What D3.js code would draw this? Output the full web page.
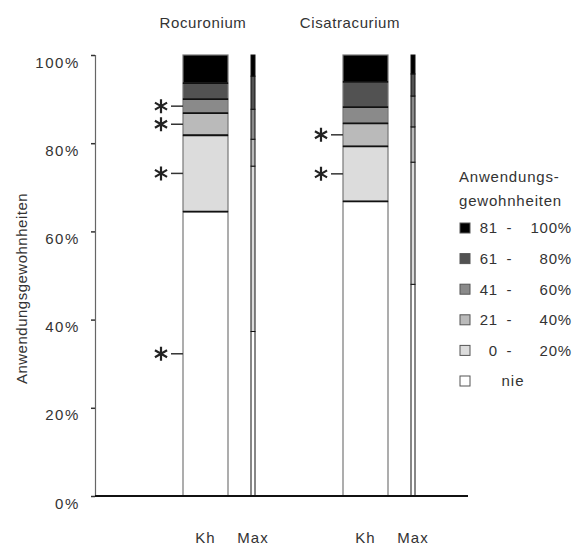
<!DOCTYPE html>
<html>
<head>
<meta charset="utf-8">
<script src="https://cdn.jsdelivr.net/npm/d3@7"></script>
<style>
  body { margin: 0; background: #fff; }
  svg { display: block; font-family: "Liberation Sans", Arial, sans-serif; }
  text { fill: #333; }
</style>
</head>
<body>
<div id="chart"></div>
<script>
// categories (bottom to top of each stack)
const categories = ["nie", "0 - 20%", "21 - 40%", "41 - 60%", "61 - 80%", "81 - 100%"];
const drugs = ["Rocuronium", "Cisatracurium"];
const barTypes = ["Kh", "Max"];

// percentages per category
const rocKh  = [64.5, 17.3, 5.0, 3.2, 3.6, 6.4];
const rocMax = [37.3, 37.5, 6.1, 6.8, 7.5, 4.8];
const cisKh  = [66.8, 12.5, 5.2, 3.7, 5.7, 6.1];
const cisMax = [48.0, 27.7, 8.0, 7.0, 5.0, 4.3];

// categories marked with an asterisk on the Kh bar
const rocStars = ["41 - 60%", "21 - 40%", "0 - 20%", "nie"];
const cisStars = ["21 - 40%", "0 - 20%"];

const yTicks = [0, 20, 40, 60, 80, 100];
const legendLo = ["", "0", "21", "41", "61", "81"];
const legendHi = ["", "20%", "40%", "60%", "80%", "100%"];

const colors = ["#ffffff", "#dcdcdc", "#bababa", "#8a8a8a", "#525252", "#000000"];

// build rows for the stack
const series = { Rocuronium: { Kh: rocKh, Max: rocMax }, Cisatracurium: { Kh: cisKh, Max: cisMax } };
const stars = { Rocuronium: rocStars, Cisatracurium: cisStars };
const rows = [];
drugs.forEach(dr => barTypes.forEach(b => {
  const row = { drug: dr, bar: b };
  categories.forEach((c, i) => row[c] = series[dr][b][i]);
  rows.push(row);
}));
const stacked = d3.stack().keys(categories)(rows);

const W = 573, H = 548;
const svg = d3.select("#chart").append("svg").attr("width", W).attr("height", H);

const y = d3.scaleLinear().domain([0, 100]).range([496, 55]);
const xGroup = d3.scaleBand().domain(drugs).range([183, 503]);
const xOff = d3.scaleOrdinal().domain(barTypes).range([0, 68]);
const bw = d3.scaleOrdinal().domain(barTypes).range([45, 4]);
const color = d3.scaleOrdinal().domain(categories).range(colors);

const xLeft = d => xGroup(d.drug) + xOff(d.bar);

// y axis
const yAxis = svg.append("g").attr("transform", "translate(95,0)")
  .call(d3.axisLeft(y).tickValues(yTicks).tickFormat(d => d + "%").tickSize(4).tickPadding(11));
yAxis.select(".domain").attr("stroke", "#666").attr("stroke-width", 1.2);
yAxis.selectAll(".tick line").attr("stroke", "#333").attr("stroke-width", 1.5);
yAxis.selectAll(".tick text").attr("font-size", 15).attr("letter-spacing", 1.6)
  .attr("dy", "0.8em").attr("fill", "#333").attr("font-family", "Liberation Sans, Arial, sans-serif");

svg.append("text")
  .attr("transform", `translate(27,${(y(0) + y(100)) / 2 + 13}) rotate(-90)`)
  .attr("text-anchor", "middle").attr("font-size", 15).attr("letter-spacing", 0.5)
  .text("Anwendungsgewohnheiten");

// stacked bars
const layer = svg.append("g").selectAll("g").data(stacked).join("g")
  .attr("fill", d => color(d.key));
layer.selectAll("rect").data(d => d.map(s => Object.assign(s, { key: d.key }))).join("rect")
  .attr("x", d => xLeft(d.data))
  .attr("width", d => bw(d.data.bar))
  .attr("y", d => y(d[1]))
  .attr("height", d => y(d[0]) - y(d[1]))
  .attr("stroke", d => d.data.bar === "Max" ? "#111" : "#777")
  .attr("stroke-width", d => d.data.bar === "Max" ? 1 : 1.2);

// segment separators on Kh bars
layer.selectAll("line").data(d => d.filter(s => s.data.bar === "Kh" && s[0] > 0)).join("line")
  .attr("x1", d => xLeft(d.data)).attr("x2", d => xLeft(d.data) + bw(d.data.bar))
  .attr("y1", d => y(d[0])).attr("y2", d => y(d[0]))
  .attr("stroke", "#111").attr("stroke-width", 1.8);

// x axis baseline
svg.append("line").attr("x1", 95).attr("x2", 468).attr("y1", y(0)).attr("y2", y(0))
  .attr("stroke", "#111").attr("stroke-width", 2);

// bar labels
svg.append("g").selectAll("text").data(rows).join("text")
  .attr("x", d => xLeft(d) + bw(d.bar) / 2)
  .attr("y", 543).attr("text-anchor", "middle").attr("font-size", 15).attr("letter-spacing", 1)
  .text(d => d.bar);

// drug titles
const titleShift = d3.scaleOrdinal().domain(drugs).range([-3, -16]);
svg.append("g").selectAll("text").data(drugs).join("text")
  .attr("x", d => xGroup(d) + 23 + titleShift(d))
  .attr("y", 28).attr("text-anchor", "middle").attr("font-size", 15).attr("letter-spacing", 0.6)
  .text(d => d);

// asterisks with leader ticks
const starData = [];
stacked.forEach(s => s.forEach(seg => {
  if (seg.data.bar === "Kh" && stars[seg.data.drug].includes(s.key)) starData.push(seg);
}));
const star = svg.append("g").selectAll("g").data(starData).join("g")
  .attr("transform", d => `translate(${xLeft(d.data)},${y((d[0] + d[1]) / 2)})`);
star.append("line").attr("x1", -12).attr("x2", 0).attr("stroke", "#333").attr("stroke-width", 1.5);
star.append("path")
  .attr("transform", "translate(-22,0)")
  .attr("d", [90, 30, 150].map(a => {
    const r = 7, t = a * Math.PI / 180;
    return `M${-r * Math.cos(t)},${-r * Math.sin(t)}L${r * Math.cos(t)},${r * Math.sin(t)}`;
  }).join(""))
  .attr("stroke", "#222").attr("stroke-width", 2.2).attr("fill", "none");

// legend
const legend = svg.append("g");
legend.append("text").attr("x", 459).attr("y", 182).attr("font-size", 15).attr("letter-spacing", 0.8).text("Anwendungs-");
legend.append("text").attr("x", 459).attr("y", 206).attr("font-size", 15).attr("letter-spacing", 0.8).text("gewohnheiten");
const ly = d3.scalePoint().domain(categories.slice().reverse()).range([228, 381]);
const item = legend.selectAll("g.item").data(categories).join("g").attr("class", "item")
  .attr("transform", d => `translate(460,${ly(d)})`);
item.append("rect").attr("x", 0).attr("y", -5).attr("width", 10).attr("height", 10)
  .attr("fill", d => color(d)).attr("stroke", "#555").attr("stroke-width", 1);
item.append("text").attr("x", 38).attr("dy", "0.36em").attr("text-anchor", "end")
  .attr("font-size", 15).attr("letter-spacing", 0.8)
  .text((d, i) => legendLo[i]);
item.append("text").attr("x", 49).attr("dy", "0.36em").attr("text-anchor", "middle")
  .attr("font-size", 15).text((d, i) => i > 0 ? "-" : "");
item.append("text").attr("x", 112).attr("dy", "0.36em").attr("text-anchor", "end")
  .attr("font-size", 15).attr("letter-spacing", 0.8)
  .text((d, i) => legendHi[i]);
item.filter(d => d === "nie").append("text").attr("x", 53).attr("dy", "0.36em")
  .attr("text-anchor", "middle").attr("font-size", 15).attr("letter-spacing", 1).text("nie");
</script>
</body>
</html>
